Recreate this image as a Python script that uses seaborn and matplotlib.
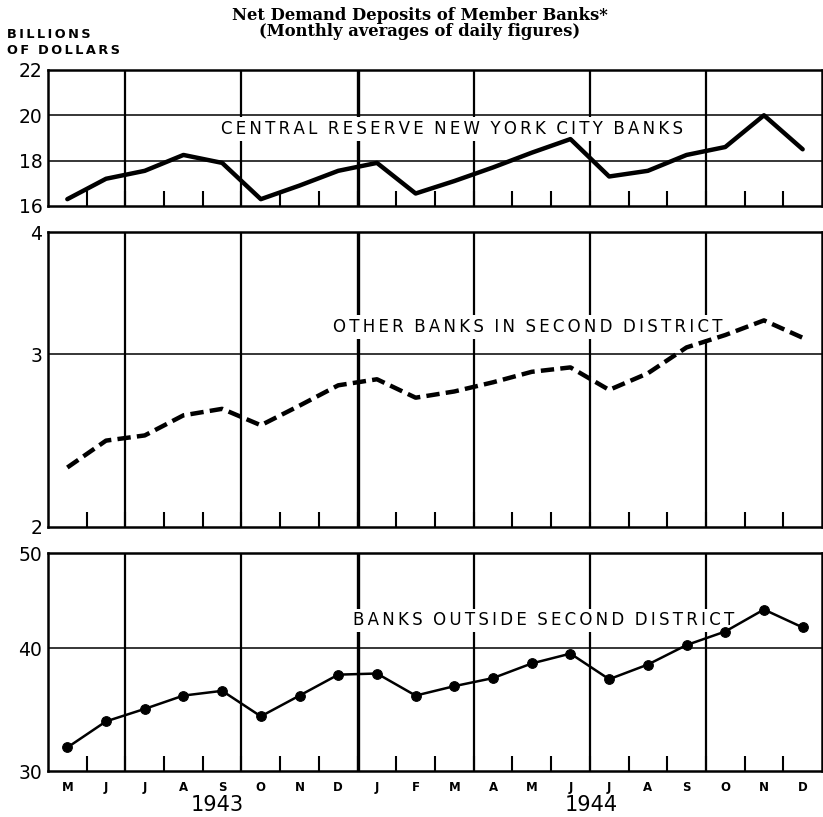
import pandas as pd
import matplotlib.pyplot as plt
import matplotlib.ticker as mticker
import seaborn as sns
import numpy as np

# months May 1943 .. Dec 1944
months = ["M", "J", "J", "A", "S", "O", "N", "D",
          "J", "F", "M", "A", "M", "J", "J", "A", "S", "O", "N", "D"]
years = ["1943", "1944"]

# billions of dollars
nyc_banks = [16.3, 17.2, 17.55, 18.25, 17.9, 16.3, 16.9, 17.55, 17.9, 16.55,
             17.1, 17.7, 18.35, 18.95, 17.3, 17.55, 18.25, 18.6, 20.0, 18.5]
other_second = [2.30, 2.45, 2.48, 2.60, 2.64, 2.54, 2.66, 2.79, 2.83, 2.71,
                2.75, 2.81, 2.88, 2.91, 2.76, 2.87, 3.05, 3.14, 3.25, 3.12]
outside_second = [31.7, 33.7, 34.7, 35.8, 36.2, 34.1, 35.8, 37.6, 37.7, 35.8,
                  36.6, 37.3, 38.6, 39.5, 37.2, 38.5, 40.3, 41.6, 43.8, 42.0]

sns.set_style("white")
plt.rcParams["font.family"] = ["DejaVu Sans"]
plt.rcParams.update({"text.color": "black", "xtick.color": "black",
                     "ytick.color": "black", "axes.labelcolor": "black"})

pos = np.arange(len(months)) + 0.5
df = pd.DataFrame({"pos": pos, "nyc": nyc_banks,
                   "other": other_second, "outside": outside_second})


def spaced(s, gap="\u200a\u200a"):
    # wide letter spacing like the old lettering guide
    return "  ".join(gap.join(w) for w in s.split(" "))


fig = plt.figure(figsize=(8.23, 8.17), dpi=100)
left, width = 0.0583, 0.9405
ax1 = fig.add_axes([left, 0.7479, width, 0.1665])
ax2 = fig.add_axes([left, 0.3550, width, 0.3610])
ax3 = fig.add_axes([left, 0.0563, width, 0.2668])

quarters = [2, 5, 8, 11, 14, 17]


def style_panel(ax, yticks, hlines, log=False):
    ax.set_xlim(0, 20)
    if log:
        ax.set_yscale("log")
    ax.set_ylim(yticks[0], yticks[-1])
    ax.set_yticks(yticks)
    ax.set_yticklabels([str(t) for t in yticks])
    ax.yaxis.set_minor_locator(mticker.NullLocator())
    ax.tick_params(axis="y", length=0, pad=4, labelsize=13.5)
    ax.set_xticks(np.arange(1, 20))
    ax.tick_params(axis="x", which="major", direction="in", bottom=True,
                   length=11, width=1.5, labelbottom=False)
    for q in quarters:
        ax.axvline(q, color="black", lw=2.4 if q == 8 else 1.6, zorder=1)
    for h in hlines:
        ax.axhline(h, color="black", lw=1.1, zorder=1)
    for s in ax.spines.values():
        s.set_linewidth(1.8)
        s.set_color("black")
    ax.set_xlabel("")
    ax.set_ylabel("")


box = dict(facecolor="white", edgecolor="none", pad=2)

# Central reserve NYC banks
sns.lineplot(data=df, x="pos", y="nyc", ax=ax1, color="black", lw=3.2, zorder=3)
style_panel(ax1, [16, 18, 20, 22], [18, 20])
ax1.text(10.45, 19.4, spaced("CENTRAL RESERVE NEW YORK CITY BANKS"), ha="center",
         va="center", fontsize=12, bbox=box, zorder=2)

# Other banks in second district
sns.lineplot(data=df, x="pos", y="other", ax=ax2, color="black", lw=3.2,
             linestyle=(0, (3, 1.4)), zorder=3)
style_panel(ax2, [2, 3, 4], [3], log=True)
ax2.text(12.4, 3.2, spaced("OTHER BANKS IN SECOND DISTRICT"), ha="center",
         va="center", fontsize=12, bbox=box, zorder=2)

# Banks outside second district
sns.lineplot(data=df, x="pos", y="outside", ax=ax3, color="black", lw=1.8,
             marker="o", markersize=7, markeredgecolor="black", zorder=3)
style_panel(ax3, [30, 40, 50], [40], log=True)
ax3.text(12.8, 42.7, spaced("BANKS OUTSIDE SECOND DISTRICT"), ha="center",
         va="center", fontsize=12, bbox=box, zorder=2)

ax3.set_xticks(pos, minor=True)
ax3.set_xticklabels(months, minor=True, fontsize=8.5, fontweight="bold")
ax3.tick_params(axis="x", which="minor", bottom=True, length=0, pad=7)
ax3.text(4.38, -0.157, years[0], transform=ax3.get_xaxis_transform(),
         ha="center", va="center", fontsize=15)
ax3.text(14.05, -0.157, years[1], transform=ax3.get_xaxis_transform(),
         ha="center", va="center", fontsize=15)

fig.text(0.009, 0.948, spaced("BILLIONS") + "\n" + spaced("OF DOLLARS"),
         ha="left", va="center", fontsize=9.3, fontweight="bold", linespacing=1.3)
fig.text(0.51, 0.971, "Net Demand Deposits of Member Banks*\n(Monthly averages of daily figures)",
         ha="center", va="center", fontsize=11.8, fontweight="bold",
         family=["DejaVu Serif"], linespacing=0.92)

plt.savefig("out.png", dpi=100)
plt.close()
